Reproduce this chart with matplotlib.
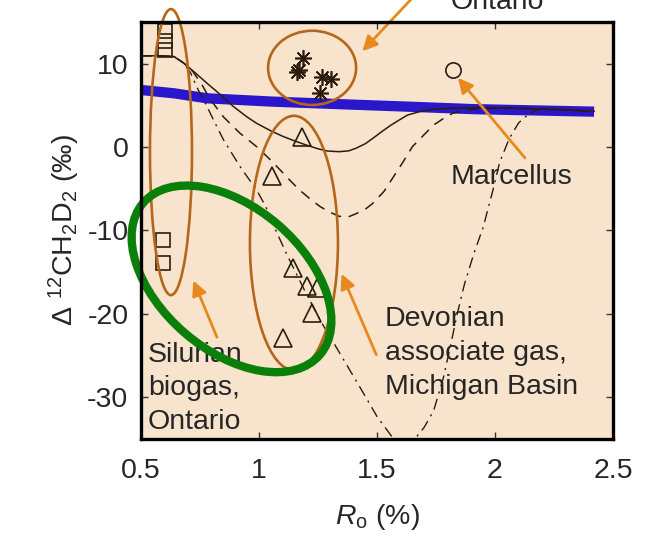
import matplotlib
matplotlib.use("Agg")
import matplotlib.pyplot as plt
from matplotlib.patches import Ellipse
from matplotlib.transforms import ScaledTranslation

plt.rcParams['font.family'] = ['Liberation Sans', 'DejaVu Sans']
plt.rcParams['mathtext.fontset'] = 'custom'
plt.rcParams['mathtext.rm'] = 'Liberation Sans'
plt.rcParams['mathtext.it'] = 'Liberation Sans:italic'
plt.rcParams['axes.unicode_minus'] = False

# measured samples
sil_x = [0.60, 0.60, 0.60, 0.594, 0.594]
sil_y = [13.9, 12.7, 11.6, -11.1, -13.9]

dev_x = [1.182, 1.056, 1.145, 1.202, 1.244, 1.223, 1.103]
dev_y = [1.2, -3.5, -14.5, -16.7, -16.9, -19.9, -22.9]

ont_x = [1.187, 1.160, 1.170, 1.266, 1.305, 1.258]
ont_y = [10.65, 9.0, 9.3, 8.44, 8.13, 6.45]

mar_x = [1.822]
mar_y = [9.24]

# equilibrium band
eq_x = [0.50, 0.64, 0.78, 1.06, 1.34, 1.63, 1.91, 2.42]
eq_y = [6.85, 6.45, 5.85, 5.45, 5.15, 4.85, 4.55, 4.25]

# model curves
solid_x = [0.50, 0.58, 0.64, 0.68, 0.73, 0.78, 0.84, 0.89, 0.95, 0.99, 1.05, 1.10,
           1.15, 1.20, 1.25, 1.29, 1.34, 1.38, 1.41, 1.45, 1.48, 1.52, 1.56, 1.60,
           1.63, 1.68, 1.73, 1.80, 1.90, 2.00, 2.10, 2.20, 2.30, 2.42]
solid_y = [10.95, 10.95, 10.85, 10.1, 8.9, 7.65, 6.2, 4.9, 3.6, 2.85, 1.95, 1.3,
           0.75, 0.25, -0.2, -0.47, -0.55, -0.45, -0.15, 0.4, 1.0, 1.85, 2.65, 3.35,
           3.85, 4.25, 4.5, 4.65, 4.7, 4.7, 4.65, 4.55, 4.45, 4.3]

dash_x = [0.50, 0.58, 0.64, 0.68, 0.72, 0.76, 0.79, 0.85, 0.92, 0.99, 1.04, 1.09,
          1.13, 1.17, 1.22, 1.26, 1.30, 1.34, 1.38, 1.41, 1.45, 1.48, 1.53, 1.57,
          1.61, 1.65, 1.70, 1.74, 1.78, 1.82, 1.88, 1.95, 2.05, 2.20, 2.42]
dash_y = [10.95, 10.95, 10.85, 10.1, 9.05, 7.4, 5.85, 3.6, 1.65, 0.05, -1.3, -2.75,
          -3.95, -5.1, -6.3, -7.15, -7.8, -8.3, -8.35, -8.0, -7.45, -6.8, -5.3, -3.55,
          -1.8, 0.05, 1.5, 2.65, 3.4, 4.05, 4.45, 4.65, 4.7, 4.55, 4.3]

dd_x = [0.50, 0.58, 0.64, 0.68, 0.71, 0.74, 0.78, 0.81, 0.85, 0.92, 0.99, 1.03,
        1.06, 1.12, 1.19, 1.26, 1.34, 1.43, 1.50, 1.56, 1.61, 1.66, 1.70, 1.74,
        1.78, 1.81, 1.84, 1.87, 1.91, 1.95, 1.99, 2.02, 2.06, 2.10, 2.14, 2.19,
        2.30, 2.42]
dd_y = [10.95, 10.95, 10.85, 10.1, 8.9, 7.0, 4.85, 3.1, 0.85, -2.35, -5.15, -7.2,
        -9.3, -13.0, -17.0, -20.8, -24.6, -28.9, -32.3, -34.6, -35.6, -35.0, -33.6, -31.6,
        -27.8, -24.0, -20.0, -16.5, -12.8, -9.6, -5.3, -1.8, 1.0, 2.9, 3.9, 4.6,
        4.5, 4.3]

ink = '#2b1d0e'
brown = '#b4661a'
orange = '#e8891e'
green = '#0a800a'
text_c = '#262626'

fig = plt.figure(figsize=(6.51, 5.40), dpi=100)
ax = fig.add_axes([141 / 651, 101 / 540, 472 / 651, 417 / 540])
ax.set_facecolor('#f8e4cd')

ax.plot(eq_x, eq_y, color='#2a17cc', lw=7.4, solid_capstyle='butt', zorder=2)

ax.plot(solid_x, solid_y, color=ink, lw=1.1, zorder=3)
ax.plot(dash_x, dash_y, color=ink, lw=1.1, ls=(0, (7, 5)), zorder=3)
ax.plot(dd_x, dd_y, color=ink, lw=1.0, ls=(0, (8, 4, 1.5, 4)), zorder=3)

ax.plot(sil_x, sil_y, 's', ms=9.5, mfc='none', mec=ink, mew=1.2, zorder=4)
ax.plot(dev_x, dev_y, '^', ms=12.5, mfc='none', mec=ink, mew=1.2, zorder=4)
ax.plot(ont_x, ont_y, marker=(8, 2, 0), ls='none', ms=12, mec=ink, mew=1.2, zorder=4)
ax.plot(mar_x, mar_y, 'o', ms=11, mfc='none', mec=ink, mew=1.2, zorder=4)

# group outlines
for (cx, cy, w, h) in [(0.627, -0.6, 0.178, 34.3),
                       (1.225, 9.5, 0.373, 8.9),
                       (1.148, -11.5, 0.373, 30.5)]:
    ax.add_patch(Ellipse((cx, cy), w, h, fill=False, ec=brown, lw=1.9,
                         clip_on=False, zorder=5))

green_tr = fig.dpi_scale_trans + ScaledTranslation(0.8835, -15.8, ax.transData)
ax.add_patch(Ellipse((0, 0), 2.33, 1.43, angle=-40.7, fill=False, ec=green,
                     lw=6, transform=green_tr, clip_on=False, zorder=8))

arrow = dict(arrowstyle='-|>', color=orange, lw=2, mutation_scale=22,
             shrinkA=0, shrinkB=0)
fs = 20.5
ax.annotate('', xy=(1.438, 11.5), xytext=(1.66, 18.2), arrowprops=arrow,
            annotation_clip=False, zorder=6)
ax.text(2.008, 16.5, 'Ontario', ha='center', va='baseline', fontsize=fs,
        color=text_c, clip_on=False)

ax.annotate('', xy=(1.843, 8.3), xytext=(2.127, -1.3), arrowprops=arrow, zorder=6)
ax.text(2.072, -3.6, 'Marcellus', ha='center', va='center', fontsize=fs, color=text_c)

ax.annotate('', xy=(0.722, -16.0), xytext=(0.822, -22.8), arrowprops=arrow, zorder=6)
ax.text(0.53, -28.9, 'Silurian\nbiogas,\nOntario', ha='left', va='center',
        fontsize=fs, color=text_c, linespacing=1.38, zorder=7)

ax.annotate('', xy=(1.35, -15.2), xytext=(1.497, -24.9), arrowprops=arrow, zorder=6)
ax.text(1.534, -24.7, 'Devonian\nassociate gas,\nMichigan Basin', ha='left',
        va='center', fontsize=fs, color=text_c, linespacing=1.38, zorder=7)

ax.set_xlim(0.5, 2.5)
ax.set_ylim(-35, 15)
ax.set_xticks([0.5, 1, 1.5, 2, 2.5])
ax.set_xticklabels(['0.5', '1', '1.5', '2', '2.5'])
ax.set_yticks([-30, -20, -10, 0, 10])
ax.tick_params(direction='in', length=5, width=1, top=True, right=True,
               labelsize=fs, labelcolor=text_c, color='#333333')
ax.tick_params(axis='x', pad=14)
ax.tick_params(axis='y', pad=9)
for sp in ax.spines.values():
    sp.set_linewidth(2.4)
    sp.set_zorder(9)

ax.set_xlabel(r'$R_{\rm o}$ (%)', fontsize=fs, color=text_c, labelpad=13)
ax.set_ylabel('Δ $^{12}$CH$_2$D$_2$ (‰)', fontsize=fs, color=text_c, labelpad=4)

fig.savefig('out.png', dpi=100)
